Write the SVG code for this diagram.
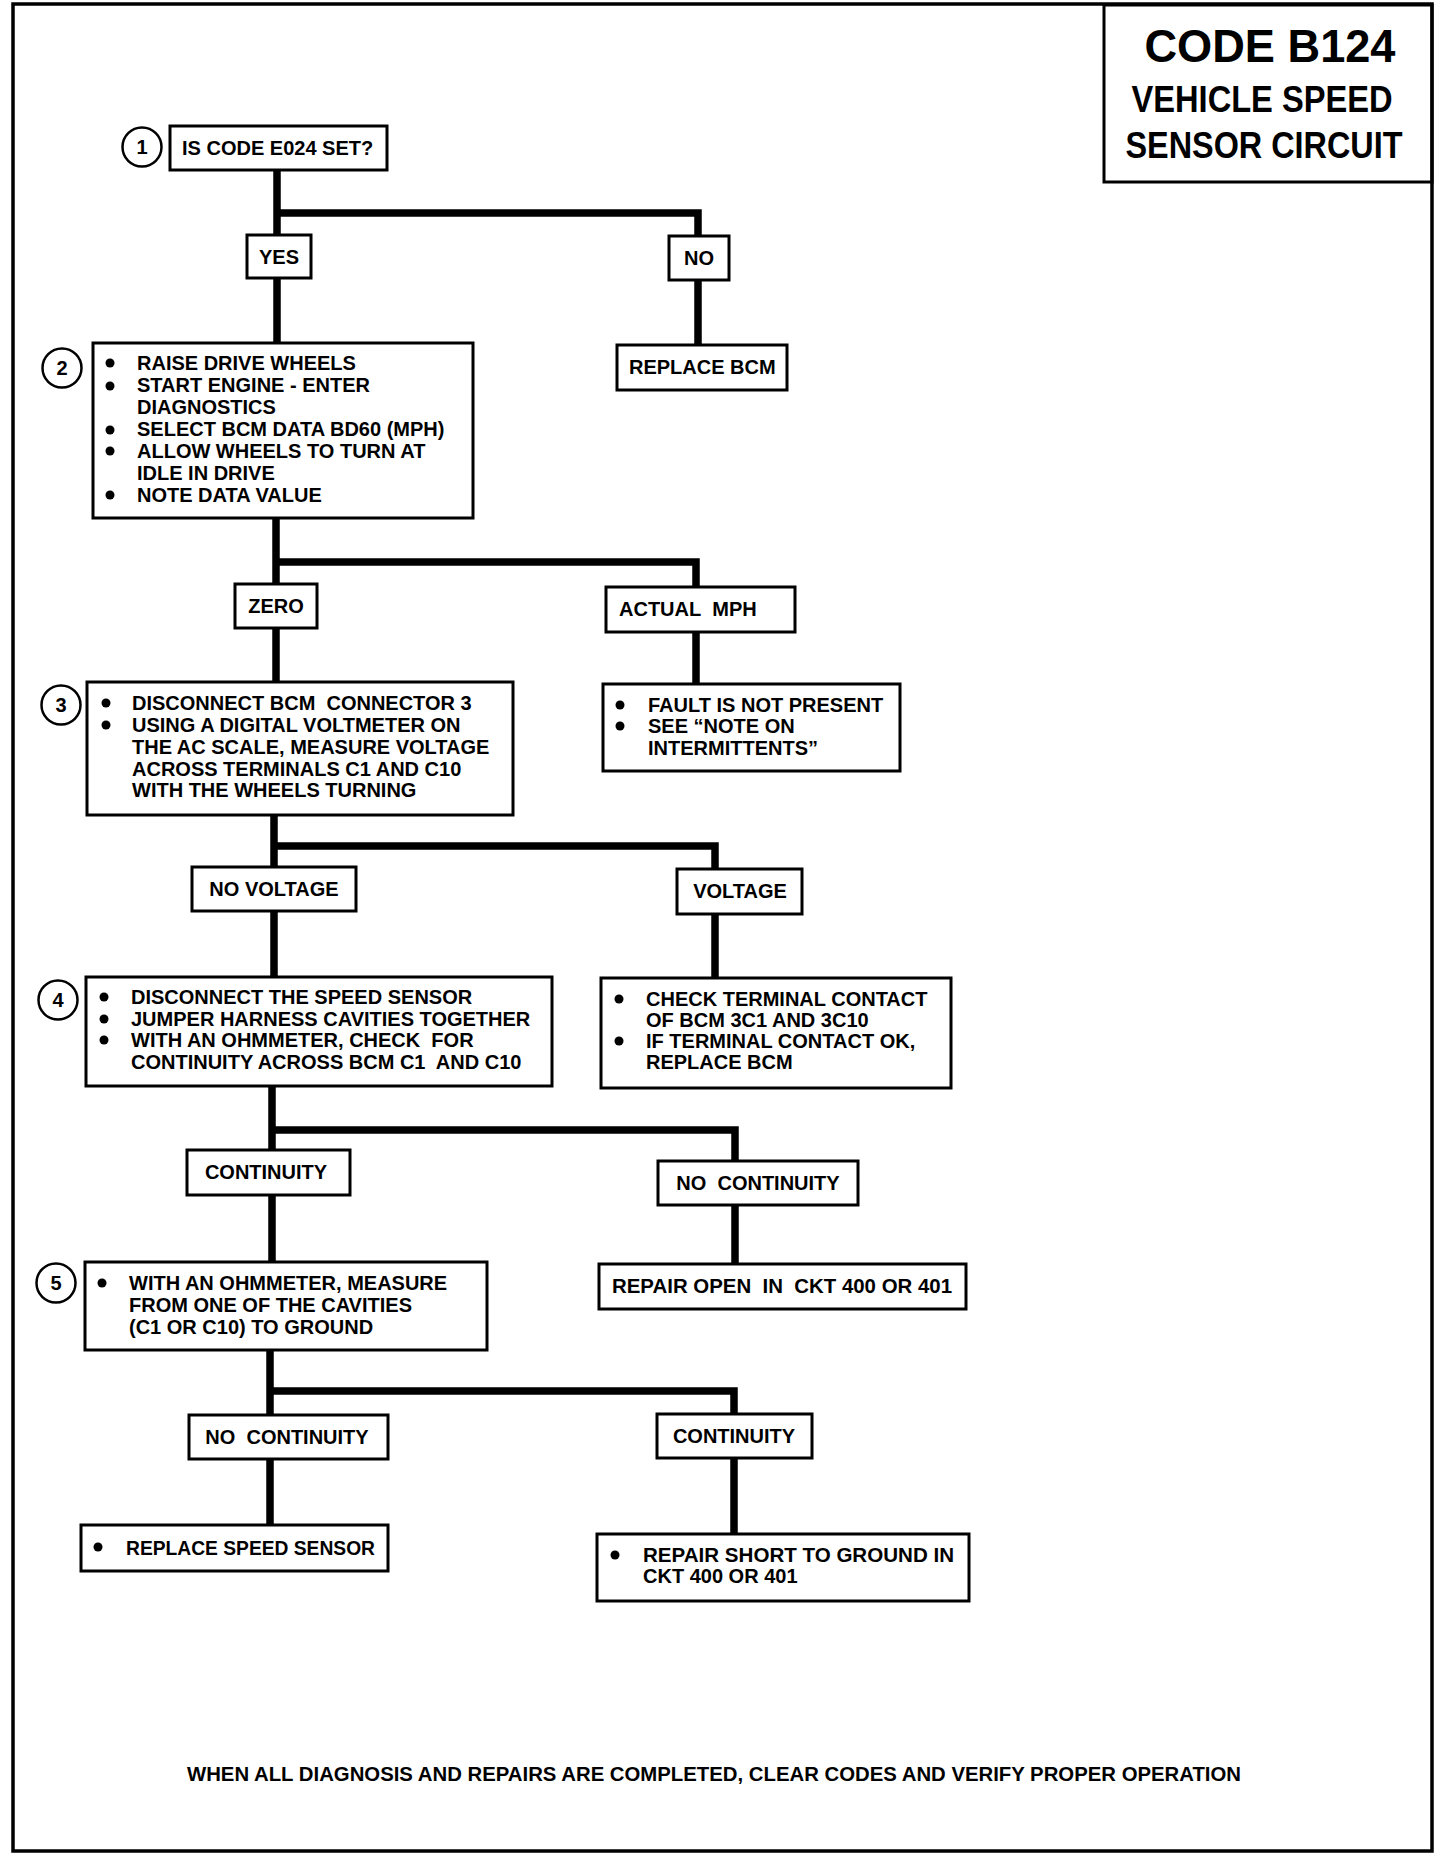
<svg xmlns="http://www.w3.org/2000/svg" width="1456" height="1860" viewBox="0 0 1456 1860">
<style>
.bx{fill:#fff;stroke:#000;stroke-width:3}
.cn{fill:none;stroke:#000;stroke-width:7.5;stroke-linejoin:miter;stroke-linecap:butt}
.t{font-family:"Liberation Sans",Arial,sans-serif;font-weight:bold;font-size:20px;fill:#000}
.c{text-anchor:middle}
.num{fill:#fff;stroke:#000;stroke-width:2.5}
.b{fill:#000}
.ttl{font-family:"Liberation Sans",Arial,sans-serif;font-weight:bold;fill:#000;text-anchor:middle}
</style>
<rect x="0" y="0" width="1456" height="1860" fill="#fff"/>
<rect x="13" y="4" width="1419" height="1847" fill="none" stroke="#000" stroke-width="3.5"/>
<g id="title">
<rect x="1104" y="5" width="328" height="177" fill="none" stroke="#000" stroke-width="3"/>
<text class="ttl" x="1270" y="62" font-size="47" textLength="251" lengthAdjust="spacingAndGlyphs">CODE B124</text>
<text class="ttl" x="1262" y="112" font-size="36" textLength="261" lengthAdjust="spacingAndGlyphs">VEHICLE SPEED</text>
<text class="ttl" x="1264" y="158" font-size="36" textLength="277" lengthAdjust="spacingAndGlyphs">SENSOR CIRCUIT</text>
</g>
<g id="connectors">
<path class="cn" d="M277,170 V343 M277,213 H698 V236 M698,280 V345"/>
<path class="cn" d="M276,518 V682 M276,562 H696 V587 M696,632 V684"/>
<path class="cn" d="M274,815 V977 M274,846 H715 V869 M715,914 V978"/>
<path class="cn" d="M272,1086 V1262 M272,1130 H735 V1161 M735,1205 V1264"/>
<path class="cn" d="M270,1350 V1525 M270,1391 H734 V1414 M734,1458 V1534"/>
</g>
<g id="step1">
<circle class="num" cx="142" cy="147" r="19.5"/>
<text class="t c" x="142" y="154">1</text>
<rect class="bx" x="170" y="126" width="217" height="44"/>
<text class="t" x="182" y="155">IS CODE E024 SET?</text>
</g>
<g id="yes1"><rect class="bx" x="247" y="235" width="64" height="43"/><text class="t c" x="279" y="264">YES</text></g>
<g id="no1"><rect class="bx" x="669" y="236" width="60" height="44"/><text class="t c" x="699" y="265">NO</text></g>
<g id="replacebcm1"><rect class="bx" x="617" y="345" width="170" height="45"/><text class="t" x="629" y="374">REPLACE BCM</text></g>
<g id="step2">
<circle class="num" cx="62" cy="368" r="19.5"/>
<text class="t c" x="62" y="375">2</text>
<rect class="bx" x="93" y="343" width="380" height="175"/>
<circle class="b" cx="110" cy="363" r="4.5"/>
<circle class="b" cx="110" cy="386" r="4.5"/>
<circle class="b" cx="110" cy="430" r="4.5"/>
<circle class="b" cx="110" cy="451" r="4.5"/>
<circle class="b" cx="110" cy="495" r="4.5"/>
<text class="t" x="137" y="370">RAISE DRIVE WHEELS</text>
<text class="t" x="137" y="392">START ENGINE - ENTER</text>
<text class="t" x="137" y="414">DIAGNOSTICS</text>
<text class="t" x="137" y="436">SELECT BCM DATA BD60 (MPH)</text>
<text class="t" x="137" y="458">ALLOW WHEELS TO TURN AT</text>
<text class="t" x="137" y="480">IDLE IN DRIVE</text>
<text class="t" x="137" y="502">NOTE DATA VALUE</text>
</g>
<g id="zero"><rect class="bx" x="235" y="584" width="82" height="44"/><text class="t c" x="276" y="613">ZERO</text></g>
<g id="actualmph"><rect class="bx" x="606" y="587" width="189" height="45"/><text class="t" x="619" y="616">ACTUAL&#160; MPH</text></g>
<g id="fault">
<rect class="bx" x="603" y="684" width="297" height="87"/>
<circle class="b" cx="620" cy="705" r="4.5"/>
<circle class="b" cx="620" cy="726" r="4.5"/>
<text class="t" x="648" y="712">FAULT IS NOT PRESENT</text>
<text class="t" x="648" y="733">SEE “NOTE ON</text>
<text class="t" x="648" y="755">INTERMITTENTS”</text>
</g>
<g id="step3">
<circle class="num" cx="61" cy="705" r="19.5"/>
<text class="t c" x="61" y="712">3</text>
<rect class="bx" x="87" y="682" width="426" height="133"/>
<circle class="b" cx="106" cy="703" r="4.5"/>
<circle class="b" cx="106" cy="725" r="4.5"/>
<text class="t" x="132" y="710">DISCONNECT BCM&#160; CONNECTOR 3</text>
<text class="t" x="132" y="732">USING A DIGITAL VOLTMETER ON</text>
<text class="t" x="132" y="754">THE AC SCALE, MEASURE VOLTAGE</text>
<text class="t" x="132" y="776">ACROSS TERMINALS C1 AND C10</text>
<text class="t" x="132" y="797">WITH THE WHEELS TURNING</text>
</g>
<g id="novoltage"><rect class="bx" x="192" y="867" width="164" height="44"/><text class="t c" x="274" y="896">NO VOLTAGE</text></g>
<g id="voltage"><rect class="bx" x="677" y="869" width="125" height="45"/><text class="t c" x="740" y="898">VOLTAGE</text></g>
<g id="checkterminal">
<rect class="bx" x="601" y="978" width="350" height="110"/>
<circle class="b" cx="619" cy="999" r="4.5"/>
<circle class="b" cx="619" cy="1041" r="4.5"/>
<text class="t" x="646" y="1006">CHECK TERMINAL CONTACT</text>
<text class="t" x="646" y="1027">OF BCM 3C1 AND 3C10</text>
<text class="t" x="646" y="1048">IF TERMINAL CONTACT OK,</text>
<text class="t" x="646" y="1069">REPLACE BCM</text>
</g>
<g id="step4">
<circle class="num" cx="58" cy="1000" r="19.5"/>
<text class="t c" x="58" y="1007">4</text>
<rect class="bx" x="86" y="977" width="466" height="109"/>
<circle class="b" cx="104" cy="997" r="4.5"/>
<circle class="b" cx="104" cy="1019" r="4.5"/>
<circle class="b" cx="104" cy="1040" r="4.5"/>
<text class="t" x="131" y="1004">DISCONNECT THE SPEED SENSOR</text>
<text class="t" x="131" y="1026">JUMPER HARNESS CAVITIES TOGETHER</text>
<text class="t" x="131" y="1047">WITH AN OHMMETER, CHECK&#160; FOR</text>
<text class="t" x="131" y="1069">CONTINUITY ACROSS BCM C1&#160; AND C10</text>
</g>
<g id="continuity1"><rect class="bx" x="187" y="1150" width="163" height="45"/><text class="t c" x="266" y="1179">CONTINUITY</text></g>
<g id="nocontinuity1"><rect class="bx" x="658" y="1161" width="200" height="44"/><text class="t c" x="758" y="1190">NO&#160; CONTINUITY</text></g>
<g id="repairopen"><rect class="bx" x="599" y="1264" width="367" height="45"/><text class="t" x="612" y="1293" textLength="340" lengthAdjust="spacingAndGlyphs">REPAIR OPEN&#160; IN&#160; CKT 400 OR 401</text></g>
<g id="step5">
<circle class="num" cx="56" cy="1283" r="19.5"/>
<text class="t c" x="56" y="1290">5</text>
<rect class="bx" x="85" y="1262" width="402" height="88"/>
<circle class="b" cx="102" cy="1283" r="4.5"/>
<text class="t" x="129" y="1290">WITH AN OHMMETER, MEASURE</text>
<text class="t" x="129" y="1312">FROM ONE OF THE CAVITIES</text>
<text class="t" x="129" y="1334">(C1 OR C10) TO GROUND</text>
</g>
<g id="nocontinuity2"><rect class="bx" x="189" y="1415" width="199" height="44"/><text class="t c" x="287" y="1444">NO&#160; CONTINUITY</text></g>
<g id="continuity2"><rect class="bx" x="657" y="1414" width="155" height="44"/><text class="t c" x="734" y="1443">CONTINUITY</text></g>
<g id="replacesensor">
<rect class="bx" x="81" y="1525" width="307" height="46"/>
<circle class="b" cx="98" cy="1547" r="4.5"/>
<text class="t" x="126" y="1555" textLength="249" lengthAdjust="spacingAndGlyphs">REPLACE SPEED SENSOR</text>
</g>
<g id="repairshort">
<rect class="bx" x="597" y="1534" width="372" height="67"/>
<circle class="b" cx="615" cy="1555" r="4.5"/>
<text class="t" x="643" y="1562" textLength="311" lengthAdjust="spacingAndGlyphs">REPAIR SHORT TO GROUND IN</text>
<text class="t" x="643" y="1583">CKT 400 OR 401</text>
</g>
<g id="footer">
<text class="t" x="187" y="1781" font-size="19" textLength="1054" lengthAdjust="spacingAndGlyphs">WHEN ALL DIAGNOSIS AND REPAIRS ARE COMPLETED, CLEAR CODES AND VERIFY PROPER OPERATION</text>
</g>
</svg>
